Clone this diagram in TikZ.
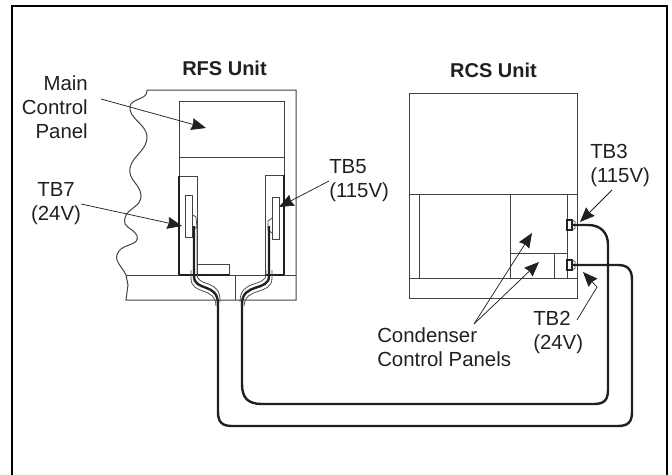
\documentclass[tikz,border=0pt]{standalone}
\usepackage{fontspec}
\setmainfont{Liberation Sans}
\usepackage{xcolor}
\usetikzlibrary{arrows.meta}
\definecolor{ink}{HTML}{231F20}
\tikzset{
    label/.style={font=\fontsize{15.3}{18}\selectfont, text=ink, inner sep=0pt, align=left},
    unit/.style={font=\fontsize{15}{18}\selectfont\bfseries, text=ink, inner sep=0pt},
    arrow/.style={-{Stealth[length=11pt, width=9pt, inset=1pt]}, draw=ink, line width=0.55pt},
    part/.style={draw=ink!85, line width=0.75pt},
    heavy/.style={draw=ink, line width=1pt},
    wire/.style={draw=ink, line width=1.8pt},
    strand/.style={draw=ink!80, line width=0.6pt},
    term/.style={draw=ink, line width=1pt, fill=white, minimum width=3.7pt, minimum height=7.5pt, inner sep=0pt, outer sep=0pt},
    strip/.style={draw=ink!85, line width=0.75pt, fill=white, minimum width=5.2pt, minimum height=31.5pt, inner sep=0pt, anchor=north west}
}
\begin{document}
\begin{tikzpicture}[x=0.75pt, y=-0.75pt]
\useasboundingbox (0,0) rectangle (672,475);
\draw[draw=black, line width=1.9pt] (12,475) -- (12,6) -- (667,6) -- (667,475);

% RFS unit
\draw[part] (147,90) -- (296,90) -- (296,300) -- (126,300) -- (128,285) -- (126,275)
    .. controls (122,266) and (112,260) .. (119,251)
    .. controls (124,244) and (140,245) .. (137,236)
    .. controls (134,228) and (122,228) .. (125,218)
    .. controls (127,208) and (142,207) .. (141,195)
    .. controls (140,184) and (128,180) .. (130,168)
    .. controls (132,156) and (148,150) .. (147,136)
    .. controls (146,124) and (128,118) .. (130,106)
    .. controls (132,98) and (148,100) .. (147,90);
\draw[part] (126,275) -- (296,275);
\draw[part] (235,275) -- (235,300);
\draw[part] (179,157) -- (284,157);
\draw[part] (179,275) -- (179,101) -- (284,101) -- (284,275);
\draw[part] (197,275) -- (197,176) -- (179,176);
\draw[part] (265,275) -- (265,175) -- (284,175);
\draw[part] (197,264) rectangle (229,275);
\draw[heavy] (179,275) -- (229,275);
\draw[heavy] (265,275) -- (284,275);
\draw[heavy] (179,176) -- (179,275);
\draw[heavy] (284,175) -- (284,275);
\node[strip] (tb7) at (185,195) {};
\node[strip] (tb5) at (272,197) {};
\draw[strand] (tb7.east |- 0,215) -- ++(3,2) -- ++(1,10) -- ++(-4,3);
\draw[strand] (tb5.west |- 0,218) -- ++(-4,3) -- ++(0,9) -- ++(4,3);

% RCS unit
\draw[part] (409,93) rectangle (577,298);
\draw[part] (409,194) -- (577,194);
\draw[part] (409,278) -- (577,278);
\draw[part] (419,194) -- (419,278);
\draw[part] (510,194) -- (510,278);
\draw[part] (567,194) -- (567,278);
\draw[part] (510,253) -- (567,253);
\draw[part] (554,253) -- (554,278);
\node[term] (tb3box) at (569.5,225) {};
\node[term] (tb2box) at (569.5,265) {};
\draw[strand] (tb3box.north east) -- ++(3,1.5) -- ++(0,7) -- (tb3box.south east);
\draw[strand] (tb2box.north east) -- ++(3,1.5) -- ++(0,7) -- (tb2box.south east);

% wiring
\draw[wire] (194,226) -- (194,276) .. controls (194,292) and (218,282) .. (218,304) -- (218,412)
    .. controls (218,422) and (222,426) .. (232,426) -- (618,426)
    .. controls (628,426) and (632,422) .. (632,412) -- (632,280)
    .. controls (632,270) and (628,265) .. (618,265) -- (tb2box.east);
\draw[strand] (197,226) -- (197,274) .. controls (197,288) and (221,278) .. (220,302);
\draw[strand] (191,270) -- (191,278) .. controls (191,296) and (216,286) .. (216,306);
\draw[wire] (269,226) -- (269,276) .. controls (269,292) and (242,282) .. (242,304) -- (242,384)
    .. controls (242,398) and (248,404) .. (262,404) -- (594,404)
    .. controls (604,404) and (608,400) .. (608,390) -- (608,245)
    .. controls (608,232) and (600,225) .. (588,225) -- (tb3box.east);
\draw[strand] (266,270) -- (266,274) .. controls (266,288) and (240,278) .. (240,302);
\draw[strand] (272,270) -- (272,278) .. controls (272,296) and (245,286) .. (244,306);

% labels
\node[unit] (rfs) at (224.5,68) {RFS Unit};
\node[unit] (rcs) at (493.5,70) {RCS Unit};
\node[label, align=right, anchor=east] (mainlbl) at (88,107) {Main\\Control\\Panel};
\node[label, align=center] (tb7lbl) at (56,204) {TB7\\(24V)};
\node[label, anchor=west] (tb5lbl) at (329,181) {TB5\\(115V)};
\node[label, anchor=west] (tb3lbl) at (590,165) {TB3\\(115V)};
\node[label, anchor=west] (tb2lbl) at (533,332) {TB2\\(24V)};
\node[label, anchor=west] (condlbl) at (377,347) {Condenser\\Control Panels};

% callouts
\coordinate (maintip) at (206,128);
\coordinate (tb7tip) at (182,226);
\coordinate (tb5tip) at (279,207);
\coordinate (tb3tip) at (580,222);
\coordinate (tb2tip) at (583,272);
\coordinate (condtipa) at (532,233);
\coordinate (condtipb) at (539,262);
\coordinate (mainstart) at (101,99);
\coordinate (tb3start) at (612,190);
\coordinate (tb2start) at (577,320);
\coordinate (condstart) at (474,324);
\draw[arrow] (mainstart) -- (maintip);
\draw[arrow] (tb7lbl.east) -- (tb7tip);
\draw[arrow] (tb5lbl.west) -- (tb5tip);
\draw[arrow] (tb3start) -- (tb3tip);
\draw[arrow] (tb2start) -- (597,287) -- (tb2tip);
\draw[arrow] (condstart) -- (condtipa);
\draw[arrow] (condstart) -- (condtipb);
\end{tikzpicture}
\end{document}
